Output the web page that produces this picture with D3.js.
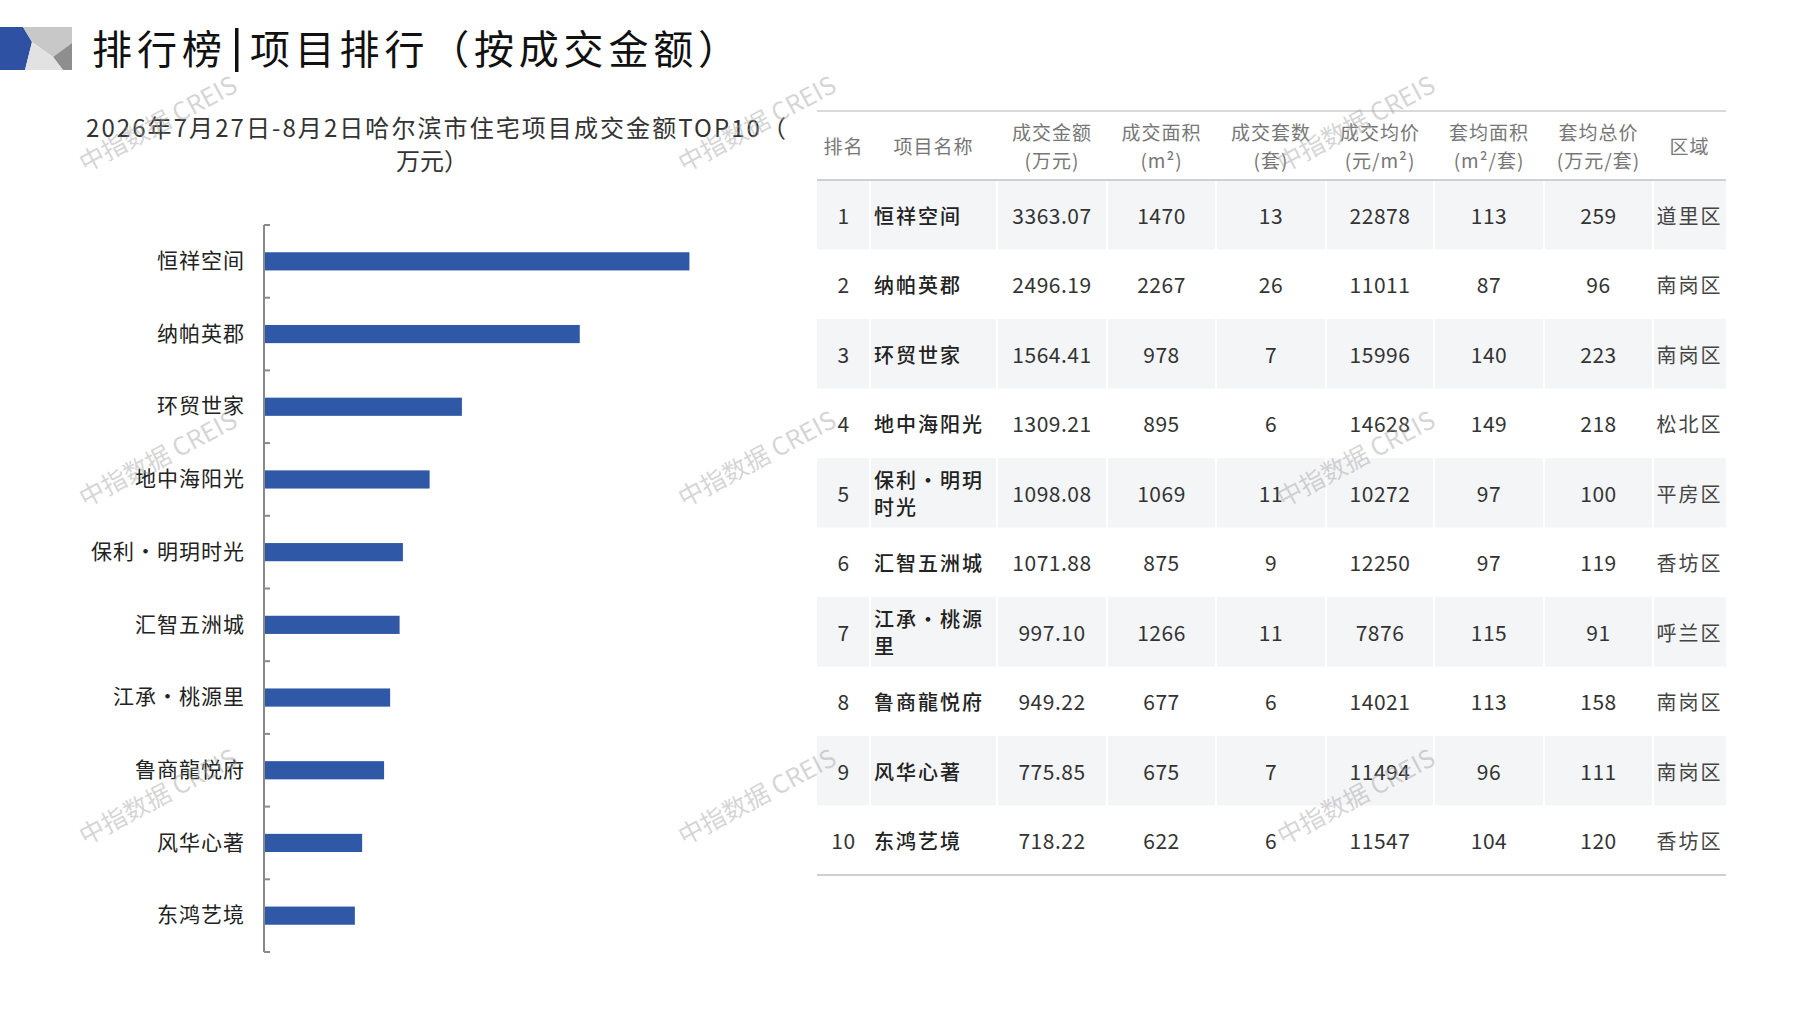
<!DOCTYPE html>
<html>
<head>
<meta charset="utf-8">
<script src="https://cdn.jsdelivr.net/npm/d3@7"></script>
<style>
  body { margin: 0; background: #fff; }
  svg { display: block; font-family: "Noto Sans CJK SC", "Noto Sans", sans-serif; }
</style>
</head>
<body>
<div id="chart"></div>
<script>
// data
const names = ["恒祥空间", "纳帕英郡", "环贸世家", "地中海阳光", "保利·明玥时光",
               "汇智五洲城", "江承·桃源里", "鲁商龍悦府", "风华心著", "东鸿艺境"];
const tableNames = [["恒祥空间"], ["纳帕英郡"], ["环贸世家"], ["地中海阳光"], ["保利·明玥", "时光"],
                    ["汇智五洲城"], ["江承·桃源", "里"], ["鲁商龍悦府"], ["风华心著"], ["东鸿艺境"]];
const amounts = [3363.07, 2496.19, 1564.41, 1309.21, 1098.08, 1071.88, 997.10, 949.22, 775.85, 718.22];
const areas = [1470, 2267, 978, 895, 1069, 875, 1266, 677, 675, 622];
const units = [13, 26, 7, 6, 11, 9, 11, 6, 7, 6];
const prices = [22878, 11011, 15996, 14628, 10272, 12250, 7876, 14021, 11494, 11547];
const avgAreas = [113, 87, 140, 149, 97, 97, 115, 113, 96, 104];
const avgTotals = [259, 96, 223, 218, 100, 119, 91, 158, 111, 120];
const districts = ["道里区", "南岗区", "南岗区", "松北区", "平房区", "香坊区", "呼兰区", "南岗区", "南岗区", "香坊区"];
const headers = [["排名"], ["项目名称"], ["成交金额", "(万元)"], ["成交面积", "(m²)"], ["成交套数", "(套)"],
                 ["成交均价", "(元/m²)"], ["套均面积", "(m²/套)"], ["套均总价", "(万元/套)"], ["区域"]];

const W = 1797, H = 1010;
const svg = d3.select("#chart").append("svg")
    .attr("width", W)
    .attr("height", H);

svg.append("rect").attr("width", W).attr("height", H).attr("fill", "#fff");

// header icon
const icon = svg.append("g");
icon.append("polygon").attr("points", "0,27 23,27 32,42 25,70 0,70").attr("fill", "#2f51a4");
icon.append("polygon").attr("points", "23,27 72,27 72,43 53,57 32,42").attr("fill", "#c8c8c8");
icon.append("polygon").attr("points", "53,57 72,43 72,70 63,70").attr("fill", "#8e8e8e");
icon.append("polygon").attr("points", "32,42 53,57 63,70 25,70").attr("fill", "#e2e2e2");

// page title
svg.append("text")
    .attr("x", 92).attr("y", 64)
    .attr("font-size", 40).attr("fill", "#111")
    .attr("textLength", 130).attr("lengthAdjust", "spacing")
    .text("排行榜");
svg.append("rect").attr("x", 235).attr("y", 28).attr("width", 3.5).attr("height", 44).attr("fill", "#111");
svg.append("text")
    .attr("x", 250).attr("y", 64)
    .attr("font-size", 40).attr("fill", "#111")
    .attr("textLength", 488).attr("lengthAdjust", "spacing")
    .text("项目排行（按成交金额）");

// chart title
svg.append("text")
    .attr("x", 86).attr("y", 137)
    .attr("font-size", 24).attr("fill", "#333")
    .attr("textLength", 700).attr("lengthAdjust", "spacing")
    .text("2026年7月27日-8月2日哈尔滨市住宅项目成交金额TOP10（");
svg.append("text")
    .attr("x", 432).attr("y", 170)
    .attr("font-size", 24).attr("fill", "#333")
    .attr("text-anchor", "middle")
    .text("万元）");

// bar chart
const x = d3.scaleLinear().domain([0, 4000]).range([264, 770]);
const y = d3.scaleBand().domain(names).range([225, 952]).paddingInner(0.75).paddingOuter(0.375);

svg.append("g")
    .selectAll("rect")
    .data(names)
    .join("rect")
    .attr("x", x(0))
    .attr("y", d => y(d))
    .attr("width", (d, i) => x(amounts[i]) - x(0))
    .attr("height", y.bandwidth())
    .attr("fill", "#2f58a6");

const yAxis = svg.append("g")
    .attr("transform", `translate(${x(0)},0)`)
    .call(d3.axisLeft(y).tickSize(0).tickPadding(19));
yAxis.select(".domain").remove();
yAxis.selectAll("text")
    .attr("font-size", 21)
    .attr("fill", "#222")
    .attr("font-family", "'Noto Sans CJK SC', sans-serif")
    .attr("letter-spacing", "1px");

// axis line and the category boundary ticks
const step = y.step();
const bounds = d3.range(names.length + 1).map(i => y.range()[0] + i * step);
svg.append("line")
    .attr("x1", x(0)).attr("x2", x(0))
    .attr("y1", y.range()[0]).attr("y2", y.range()[1])
    .attr("stroke", "#8a8a8a").attr("stroke-width", 2);
svg.append("g")
    .selectAll("line")
    .data(bounds)
    .join("line")
    .attr("x1", x(0)).attr("x2", x(0) + 6)
    .attr("y1", d => d).attr("y2", d => d)
    .attr("stroke", "#8a8a8a").attr("stroke-width", 2);

// table
const colEdges = [817, 870, 997, 1107, 1216, 1326, 1434, 1544, 1653, 1726];
const tableTop = 111, headBottom = 180, tableBottom = 875;
const row = d3.scaleBand().domain(d3.range(names.length)).range([headBottom, tableBottom]);
const colMid = i => (colEdges[i] + colEdges[i + 1]) / 2;

const table = svg.append("g");

table.selectAll("rect.stripe")
    .data(d3.range(names.length).filter(i => i % 2 === 0))
    .join("rect")
    .attr("class", "stripe")
    .attr("x", colEdges[0])
    .attr("y", i => row(i))
    .attr("width", colEdges[colEdges.length - 1] - colEdges[0])
    .attr("height", row.bandwidth())
    .attr("fill", "#f4f5f7");

// faint column separators
table.selectAll("line.sep")
    .data(colEdges.slice(1, -1))
    .join("line")
    .attr("class", "sep")
    .attr("x1", d => d).attr("x2", d => d)
    .attr("y1", headBottom).attr("y2", tableBottom)
    .attr("stroke", "#fff").attr("stroke-width", 2);

table.append("line")
    .attr("x1", colEdges[0]).attr("x2", colEdges[colEdges.length - 1])
    .attr("y1", tableTop).attr("y2", tableTop)
    .attr("stroke", "#d9d9d9").attr("stroke-width", 2);
table.append("line")
    .attr("x1", colEdges[0]).attr("x2", colEdges[colEdges.length - 1])
    .attr("y1", headBottom).attr("y2", headBottom)
    .attr("stroke", "#d0d0d0").attr("stroke-width", 2);
table.append("line")
    .attr("x1", colEdges[0]).attr("x2", colEdges[colEdges.length - 1])
    .attr("y1", tableBottom).attr("y2", tableBottom)
    .attr("stroke", "#cfcfcf").attr("stroke-width", 2);

// header cells
headers.forEach((lines, c) => {
  const cy = (tableTop + headBottom) / 2;
  const t = table.append("text")
      .attr("x", colMid(c))
      .attr("text-anchor", "middle")
      .attr("font-size", 19)
      .attr("fill", "#777")
      .attr("letter-spacing", "1px");
  lines.forEach((s, k) => {
    t.append("tspan")
        .attr("x", colMid(c))
        .attr("y", cy + 8 + (k - (lines.length - 1) / 2) * 28)
        .text(s);
  });
});

// body cells
const cols = [
  d3.range(1, names.length + 1),
  null,
  amounts.map(v => v.toFixed(2)),
  areas, units, prices, avgAreas, avgTotals, districts
];

d3.range(names.length).forEach(r => {
  const cy = row(r) + row.bandwidth() / 2 + 9;
  cols.forEach((vals, c) => {
    if (c === 1) {
      const lines = tableNames[r];
      const t = table.append("text")
          .attr("x", colEdges[1] + 4)
          .attr("font-size", 20)
          .attr("font-weight", 500)
          .attr("fill", "#222")
          .attr("letter-spacing", "2px");
      lines.forEach((s, k) => {
        t.append("tspan")
            .attr("x", colEdges[1] + 4)
            .attr("y", cy + (k - (lines.length - 1) / 2) * 27)
            .text(s);
      });
      return;
    }
    table.append("text")
        .attr("x", colMid(c))
        .attr("y", cy)
        .attr("text-anchor", "middle")
        .attr("font-size", c === 8 ? 20 : 21)
        .attr("fill", c === 8 ? "#444" : "#333")
        .attr("letter-spacing", c === 8 ? "2px" : "0.5px")
        .text(vals[r]);
  });
});

// watermarks
const wmX = [158, 757, 1356];
const wmY = [124, 459, 797];
const wm = svg.append("g").attr("pointer-events", "none");
wmY.forEach(wy => wmX.forEach(wx => {
  wm.append("text")
      .attr("transform", `translate(${wx},${wy}) rotate(-28)`)
      .attr("text-anchor", "middle")
      .attr("dy", "0.35em")
      .attr("font-size", 25)
      .attr("fill", "#a0a0a0")
      .attr("fill-opacity", 0.45)
      .text("中指数据 CREIS");
}));
</script>
</body>
</html>
